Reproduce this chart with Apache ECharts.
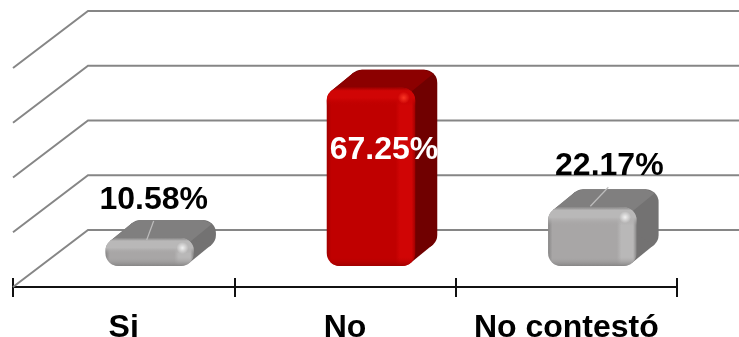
<!DOCTYPE html>
<html>
<head>
<meta charset="utf-8">
<style>
  html, body { margin: 0; padding: 0; background: #fff; }
  #chart { width: 739px; height: 337px; }
</style>
<script src="https://cdn.jsdelivr.net/npm/echarts@6/dist/echarts.min.js"></script>
</head>
<body>
<div id="chart"></div>
<script>
// Survey answers, share of respondents in percent
const categories = ['Si', 'No', 'No contestó'];
const percentages = [10.58, 67.25, 22.17];
const gridTicks = [0, 20, 40, 60, 80];

// Face colours of each box: front, bevel highlight, edge shade, top, side
const grayFaces = { front: '#a8a6a6', light: '#b9b8b8', edge: '#868585', top: '#807f7f', side: '#737272' };
const redFaces = { front: '#c00000', light: '#d00505', edge: '#a00000', top: '#8c0000', side: '#700000' };
const boxFaces = [grayFaces, redFaces, grayFaces];

// Where each value label sits relative to the top centre of its box
const labelOffsets = [[4, -38], [13, 62], [17, -41]];
// Leader line from the box top towards the label, for labels outside the box
const leaderLines = [[[-3, 2], [4, -17]], null, [[-2, -1], [16, -20]]];

// Floor and wall are sheared back by this much
const WALL_DX = 75;
const WALL_DY = 57;
// Box depth
const BOX_DX = 22;
const BOX_DY = 18;

function renderWallLine(params, api) {
  const left = api.coord([0, api.value(0)]);
  const startX = params.coordSys.x;
  const endX = startX + params.coordSys.width + WALL_DX;
  const y = left[1];
  return {
    type: 'polyline',
    silent: true,
    shape: { points: [[startX, y], [startX + WALL_DX, y - WALL_DY], [endX, y - WALL_DY]] },
    style: { stroke: '#868686', lineWidth: 2, fill: null }
  };
}

function renderBox(params, api) {
  const i = params.dataIndex;
  const faces = boxFaces[i];
  const value = api.value(1);
  const top = api.coord([api.value(0), value]);
  const base = api.coord([api.value(0), 0]);
  const w = api.size([1, 0])[0] * 0.4;
  const h = base[1] - top[1];
  const x = top[0] - w / 2;
  const y = top[1];
  const r = Math.min(13, h / 2);
  const bevel = Math.min(17, w * 0.2);

  // Tangent points of the swept rounded outline
  const len = Math.hypot(BOX_DX, BOX_DY);
  const nx = -BOX_DY / len * r;
  const ny = -BOX_DX / len * r;
  const tlFront = [x + r + nx, y + r + ny];
  const tlBack = [tlFront[0] + BOX_DX, tlFront[1] - BOX_DY];
  const brFront = [x + w - r - nx, y + h - r - ny];
  const brBack = [brFront[0] + BOX_DX, brFront[1] - BOX_DY];
  const diag = r * 0.707;
  const trFront = [x + w - r + diag, y + r - diag];
  const trBack = [trFront[0] + BOX_DX, trFront[1] - BOX_DY];

  const off = labelOffsets[i];
  const children = [
    // rounded back and the sweep between back and front
    {
      type: 'rect',
      shape: { x: x + BOX_DX, y: y - BOX_DY, width: w, height: h, r: r },
      style: { fill: faces.side }
    },
    {
      type: 'polygon',
      shape: { points: [tlFront, tlBack, brBack, brFront] },
      style: { fill: faces.side }
    },
    // top face
    {
      type: 'polygon',
      shape: { points: [
        tlFront, tlBack, [x + BOX_DX + r, y - BOX_DY], [x + w + BOX_DX - r, y - BOX_DY],
        trBack, trFront, [x + r, y + r]
      ] },
      style: { fill: faces.top }
    },
    // front face, shaded towards its left and right edges
    {
      type: 'rect',
      shape: { x: x, y: y, width: w, height: h, r: r },
      style: {
        fill: {
          type: 'linear', x: 0, y: 0, x2: 1, y2: 0,
          colorStops: [
            { offset: 0, color: faces.edge },
            { offset: 0.05, color: faces.front },
            { offset: 1 - bevel / w - 0.03, color: faces.front },
            { offset: 1 - bevel / w + 0.02, color: faces.light },
            { offset: 0.96, color: faces.light },
            { offset: 1, color: faces.edge }
          ]
        }
      }
    },
    // top and bottom bevels
    {
      type: 'rect',
      shape: { x: x, y: y, width: w, height: h, r: r },
      style: {
        fill: {
          type: 'linear', x: 0, y: 0, x2: 0, y2: 1,
          colorStops: [
            { offset: 0, color: faces.edge },
            { offset: Math.min(0.12, 3 / h), color: faces.light },
            { offset: Math.min(0.35, 10 / h), color: faces.light },
            { offset: Math.min(0.55, 18 / h), color: faces.front + '00' },
            { offset: Math.max(0.6, 1 - 9 / h), color: faces.front + '00' },
            { offset: 1, color: faces.edge }
          ]
        }
      }
    },
    // specular spot at the bevel corner
    {
      type: 'circle',
      shape: { cx: x + w - bevel / 2 - 3, cy: y + Math.min(10, h / 2.5), r: 6 },
      style: {
        fill: {
          type: 'radial', x: 0.5, y: 0.5, r: 0.5,
          colorStops: [
            { offset: 0, color: i === 1 ? 'rgba(255,60,40,0.9)' : 'rgba(255,255,255,0.8)' },
            { offset: 1, color: i === 1 ? 'rgba(255,60,40,0)' : 'rgba(255,255,255,0)' }
          ]
        }
      }
    }
  ];

  if (leaderLines[i]) {
    const [from, to] = leaderLines[i];
    children.push({
      type: 'line',
      shape: { x1: top[0] + from[0], y1: y + from[1], x2: top[0] + to[0], y2: y + to[1] },
      style: { stroke: '#bdbdbd', lineWidth: 1.2 }
    });
  }

  children.push({
    type: 'text',
    style: {
      text: value.toFixed(2) + '%',
      x: top[0] + off[0],
      y: y + off[1],
      textAlign: 'center',
      textVerticalAlign: 'middle',
      fontFamily: '"Liberation Sans", Arial, sans-serif',
      fontWeight: 'bold',
      fontSize: 32,
      fill: i === 1 ? '#ffffff' : '#000000'
    }
  });

  return { type: 'group', silent: true, children: children };
}

const chart = echarts.init(document.getElementById('chart'), null, { renderer: 'canvas' });

chart.setOption({
  animation: false,
  backgroundColor: '#ffffff',
  grid: [
    // front plane: category axis and wall lines
    { left: 13, width: 664, top: 68, height: 219, outerBoundsMode: 'none' },
    // plane the boxes stand on, set back from the axis
    { left: 39, width: 664, top: 54, height: 212, outerBoundsMode: 'none' }
  ],
  xAxis: [
    {
      type: 'category', gridIndex: 0, position: 'bottom', data: categories,
      axisLine: { onZero: false, lineStyle: { color: '#111111', width: 2 } },
      axisTick: { show: true, length: 10, lineStyle: { color: '#111111', width: 2 } },
      axisLabel: {
        color: '#000000', fontSize: 32, fontWeight: 'bold', margin: 25,
        fontFamily: '"Liberation Sans", Arial, sans-serif', interval: 0
      }
    },
    {
      // same axis again, to carry the tick half that points up
      type: 'category', gridIndex: 0, position: 'bottom', data: categories,
      axisLine: { show: true, onZero: false, lineStyle: { color: '#111111', width: 2 } },
      axisTick: { show: true, inside: true, length: 9, lineStyle: { color: '#111111', width: 2 } },
      axisLabel: { show: false }
    },
    { type: 'category', gridIndex: 1, data: categories, show: false }
  ],
  yAxis: [
    { type: 'value', gridIndex: 0, min: 0, max: 80, interval: 20, show: false },
    { type: 'value', gridIndex: 0, min: 0, max: 80, interval: 20, show: false },
    { type: 'value', gridIndex: 1, min: 0, max: 80, interval: 20, show: false }
  ],
  series: [
    {
      type: 'custom', xAxisIndex: 0, yAxisIndex: 0, z: 1, clip: false,
      data: gridTicks.map(t => [t]),
      encode: { y: 0 },
      renderItem: renderWallLine
    },
    {
      type: 'custom', xAxisIndex: 2, yAxisIndex: 2, z: 3, clip: false,
      data: categories.map((c, i) => [i, percentages[i]]),
      encode: { x: 0, y: 1 },
      renderItem: renderBox
    }
  ]
});
</script>
</body>
</html>
